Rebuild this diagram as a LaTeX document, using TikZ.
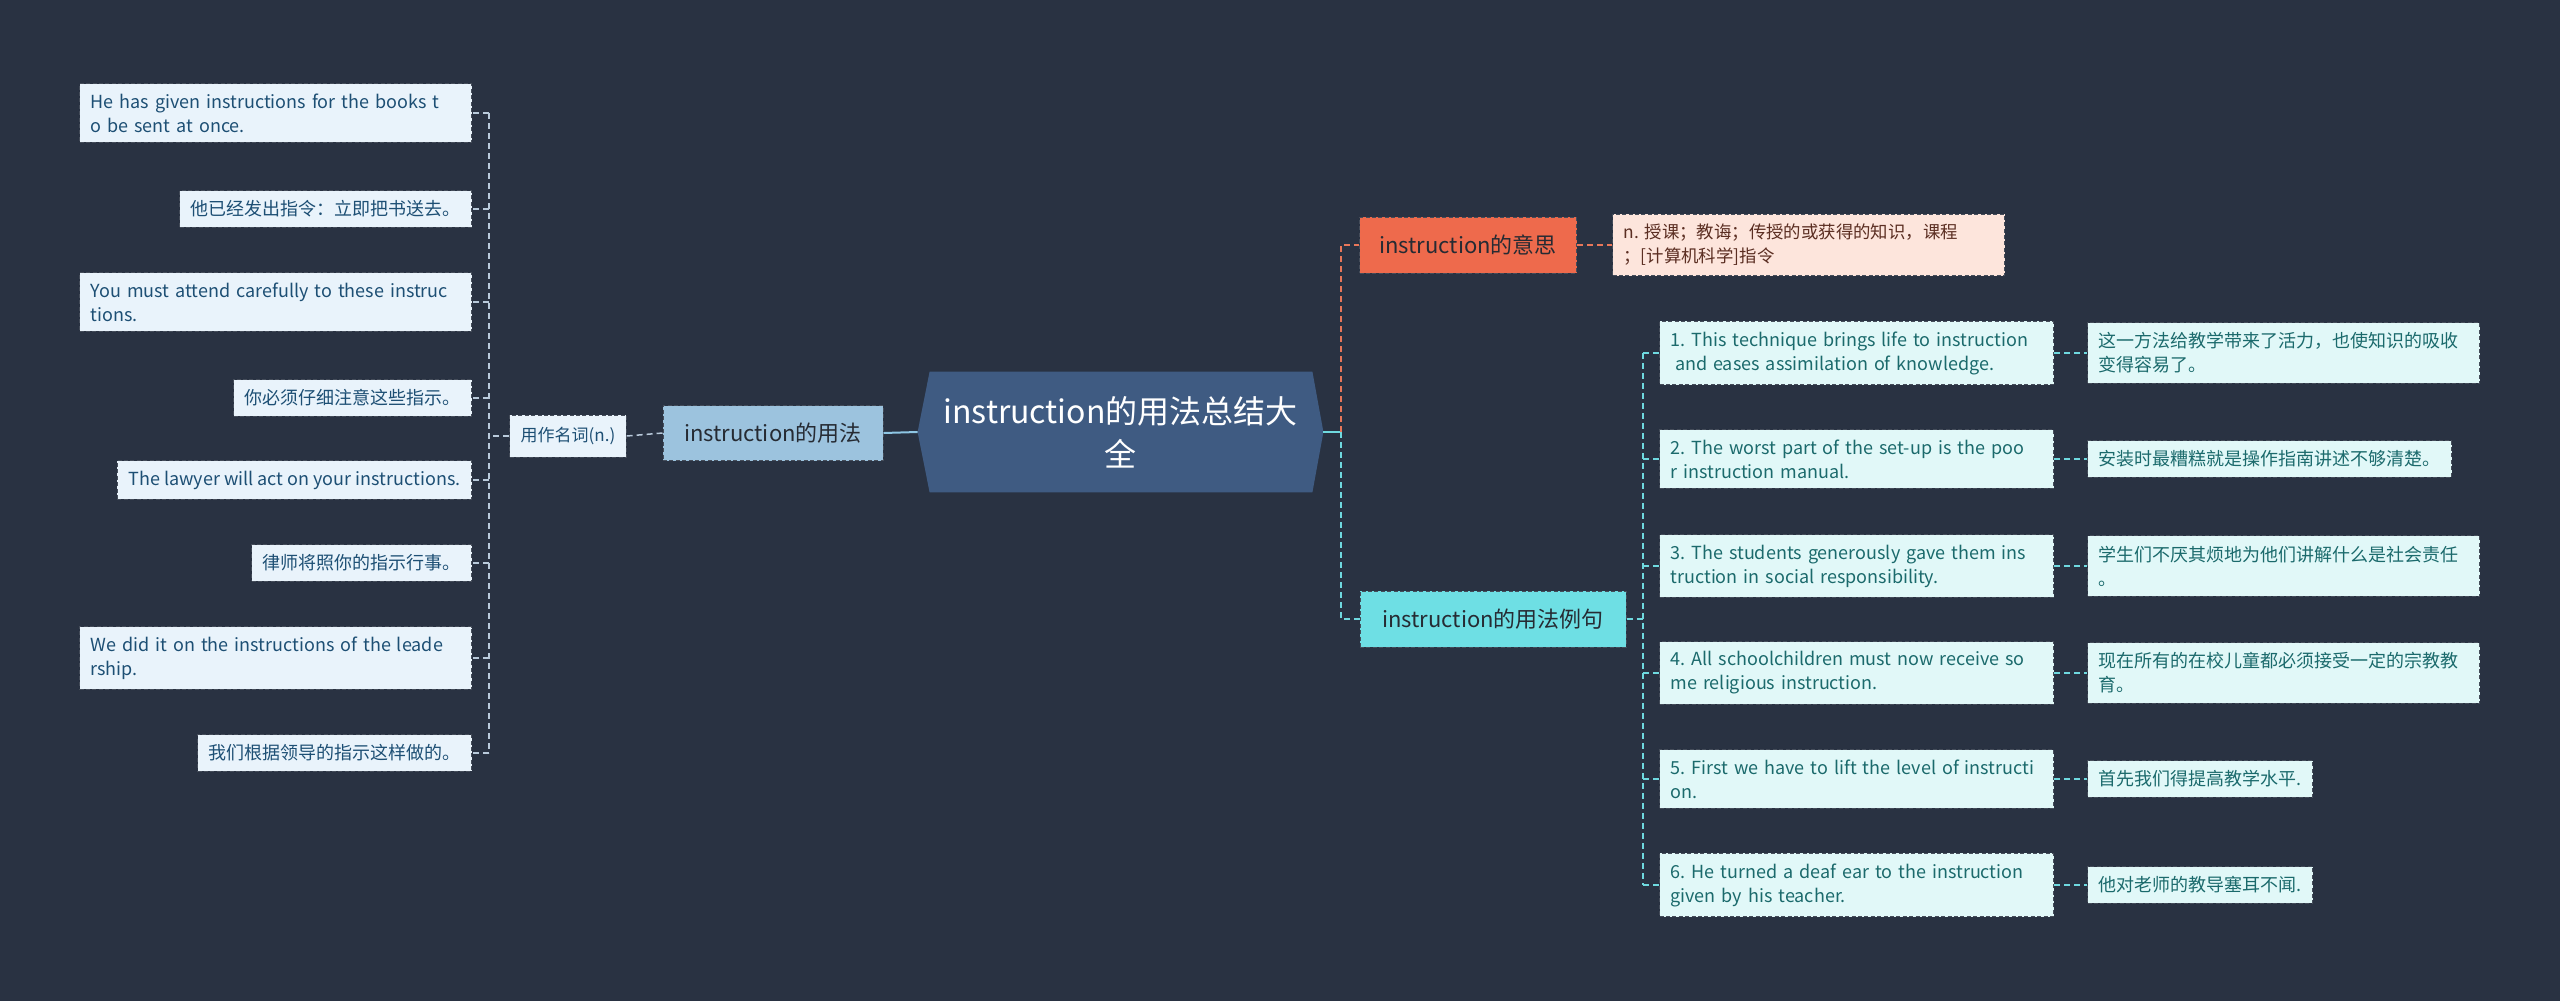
\documentclass[tikz,border=0pt]{standalone}
\usepackage{fontspec}
\setmainfont{Noto Sans CJK SC}[WordSpace={1,0,0}]
\usepackage{xcolor}
\usetikzlibrary{positioning,calc,backgrounds}

\definecolor{bgcol}{HTML}{293242}
\definecolor{boxline}{HTML}{454D5A}
\definecolor{leaffill}{HTML}{E9F3FB}
\definecolor{leaftext}{HTML}{1D4F74}
\definecolor{usefill}{HTML}{9CC3DE}
\definecolor{rootfill}{HTML}{3F5B82}
\definecolor{meanfill}{HTML}{EE6A4C}
\definecolor{peachfill}{HTML}{FDE5DC}
\definecolor{peachtext}{HTML}{5B2E22}
\definecolor{cyanfill}{HTML}{6EDFE4}
\definecolor{sentfill}{HTML}{E1F8F8}
\definecolor{senttext}{HTML}{1B6A6C}
\definecolor{darktext}{HTML}{262B33}
\definecolor{linelight}{HTML}{B9CADB}
\definecolor{lineblue}{HTML}{8EC6E4}
\definecolor{lineorange}{HTML}{E8775A}
\definecolor{linecyan}{HTML}{6FD9DF}

\begin{document}
\frenchspacing
\begin{tikzpicture}[
    x=0.5pt, y=-0.5pt,
    box/.style={draw=boxline,dash pattern=on 2pt off 1.2pt,line width=0.5pt,
                inner xsep=5.5pt,inner ysep=5pt,align=left,
                font=\fontsize{9}{12}\selectfont},
    leaf/.style={box,fill=leaffill,text=leaftext,anchor=east},
    noun/.style={box,fill=leaffill,text=leaftext,font=\fontsize{8.5}{10}\selectfont,
                 minimum height=21pt},
    usage/.style={box,fill=usefill,text=darktext,font=\fontsize{11}{13}\selectfont,
                  minimum width=110pt,minimum height=27.5pt,align=center},
    root/.style={text=white,font=\fontsize{16}{21.5}\selectfont,align=center,
                 minimum width=202.5pt,minimum height=60pt,inner sep=0pt},
    mean/.style={box,fill=meanfill,text=darktext,font=\fontsize{11}{13}\selectfont,
                 minimum width=108.5pt,minimum height=28pt,align=center},
    meaning/.style={box,fill=peachfill,text=peachtext,anchor=west,
                    font=\fontsize{8.7}{12}\selectfont},
    exhead/.style={box,fill=cyanfill,text=darktext,font=\fontsize{11}{13}\selectfont,
                   minimum width=133pt,minimum height=28pt,align=center},
    sent/.style={box,fill=sentfill,text=senttext,anchor=west,text width=186pt},
    trans/.style={box,fill=sentfill,text=senttext,anchor=west},
    lline/.style={draw=linelight,line width=0.75pt,dash pattern=on 3pt off 2pt},
    oline/.style={draw=lineorange,line width=0.75pt,dash pattern=on 3pt off 2pt},
    cline/.style={draw=linecyan,line width=0.75pt,dash pattern=on 3pt off 2pt},
  ]

  % --- left leaves: noun examples and their translations
  \node[leaf,text width=185pt] (s1) at (472,113) {He has given instructions for the books t\\o be sent at once.};
  \node[leaf] (c1) at (472,209) {他已经发出指令：立即把书送去。};
  \node[leaf,text width=185pt] (s2) at (472,302) {You must attend carefully to these instruc\\tions.};
  \node[leaf] (c2) at (472,398) {你必须仔细注意这些指示。};
  \node[leaf] (s3) at (472,480) {The lawyer will act on your instructions.};
  \node[leaf] (c3) at (472,563) {律师将照你的指示行事。};
  \node[leaf,text width=185pt] (s4) at (472,658) {We did it on the instructions of the leade\\rship.};
  \node[leaf] (c4) at (472,753) {我们根据领导的指示这样做的。};

  % --- left branch
  \node[noun]  (noun)  at (568,436) {用作名词(n.)};
  \node[usage] (usage) at (773,433) {instruction的用法};

  % --- root
  \node[root] (root) at (1120.5,432) {instruction的用法总结大\\全};

  % --- right branch heads
  \node[mean]   (mean) at (1468,245) {instruction的意思};
  \node[meaning,text width=185pt] (def) at (1612,245) {n. 授课；教诲；传授的或获得的知识，课程\\；[计算机科学]指令};
  \node[exhead] (ex)   at (1493,619) {instruction的用法例句};

  % --- example sentences
  \node[sent] (e1) at (1659,353) {1. This technique brings life to instruction\\\hspace*{0.25em}and eases assimilation of knowledge.};
  \node[sent] (e2) at (1659,459) {2. The worst part of the set-up is the poo\\r instruction manual.};
  \node[sent] (e3) at (1659,566) {3. The students generously gave them ins\\truction in social responsibility.};
  \node[sent] (e4) at (1659,673) {4. All schoolchildren must now receive so\\me religious instruction.};
  \node[sent] (e5) at (1659,779) {5. First we have to lift the level of instructi\\on.};
  \node[sent] (e6) at (1659,885) {6. He turned a deaf ear to the instruction\\given by his teacher.};

  % --- translations
  \node[trans,text width=185pt] (t1) at (2087,353) {这一方法给教学带来了活力，也使知识的吸收\\变得容易了。};
  \node[trans] (t2) at (2087,459) {安装时最糟糕就是操作指南讲述不够清楚。};
  \node[trans,text width=185pt] (t3) at (2087,566) {学生们不厌其烦地为他们讲解什么是社会责任\\。};
  \node[trans,text width=185pt] (t4) at (2087,673) {现在所有的在校儿童都必须接受一定的宗教教\\育。};
  \node[trans] (t5) at (2087,779) {首先我们得提高教学水平.};
  \node[trans] (t6) at (2087,885) {他对老师的教导塞耳不闻.};

  % --- background and root hexagon
  \begin{scope}[on background layer]
    \fill[bgcol] (0,0) rectangle (2560,1001);
    \fill[rootfill] (root.west) -- ($(root.north west)+(12,0)$) -- ($(root.north east)+(-11,0)$)
      -- (root.east) -- ($(root.south east)+(-11,0)$) -- ($(root.south west)+(12,0)$) -- cycle;
  \end{scope}

  % --- left connectors
  \coordinate (ltrunk) at (489,436);
  \draw[lline] (noun.west) -- (ltrunk);
  \draw[lline] (ltrunk |- s1.east) -- (ltrunk |- c4.east);
  \foreach \n in {s1,c1,s2,c2,s3,c3,s4,c4}
    \draw[lline] (ltrunk |- \n.east) -- (\n.east);
  \draw[lline] (usage.west) -- (noun.east);
  \draw[lineblue,line width=1pt] (root.west) -- (usage.east);

  % --- right connectors
  \coordinate (rtrunk) at (1341,432);
  \draw[linecyan,line width=1pt] (root.east) -- (rtrunk);
  \draw[oline] (rtrunk) |- (mean.west);
  \draw[oline] (mean.east) -- (def.west);
  \draw[cline] (rtrunk) |- (ex.west);

  \coordinate (etrunk) at (1643,619);
  \draw[cline] (ex.east) -- (etrunk);
  \draw[cline] (etrunk |- e1.west) -- (etrunk |- e6.west);
  \foreach \i in {1,...,6} {
    \draw[cline] (etrunk |- e\i.west) -- (e\i.west);
    \draw[cline] (e\i.east) -- (t\i.west);
  }

\end{tikzpicture}
\end{document}
